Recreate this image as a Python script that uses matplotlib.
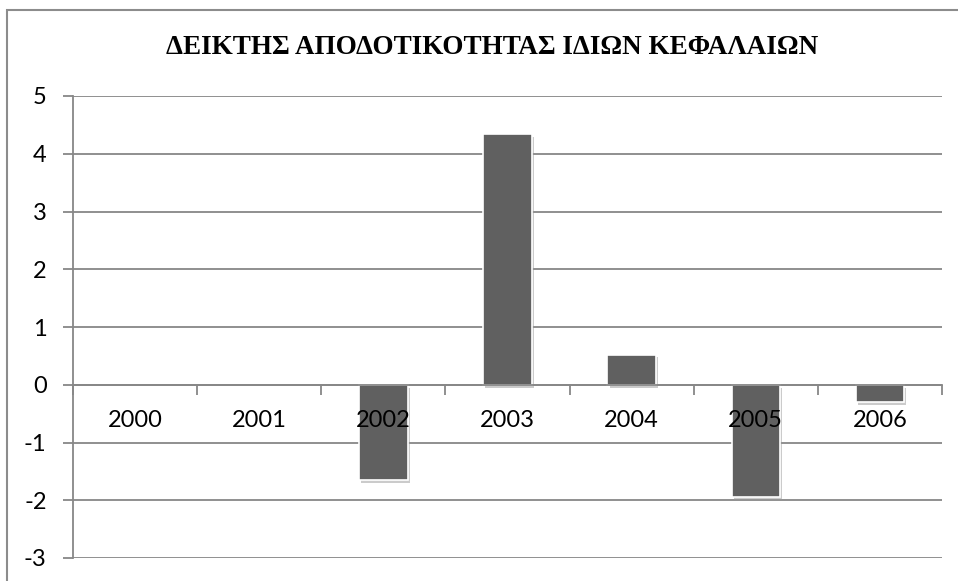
import matplotlib.pyplot as plt
import matplotlib.patheffects as pe
from matplotlib.patches import Rectangle
import numpy as np

years = ['2000', '2001', '2002', '2003', '2004', '2005', '2006']
values = [0.0, 0.0, -1.65, 4.34, 0.52, -1.94, -0.30]
title = 'ΔΕΙΚΤΗΣ ΑΠΟΔΟΤΙΚΟΤΗΤΑΣ ΙΔΙΩΝ ΚΕΦΑΛΑΙΩΝ'

plt.rcParams['axes.unicode_minus'] = False

W, H = 958, 581
fig = plt.figure(figsize=(W / 100, H / 100), dpi=100)
grid_c = '#878787'

# outer chart border (cut off at right and bottom in the original)
fig.patches.append(Rectangle((7 / W, -0.1), 1.2, 1 - 10 / H + 0.1, transform=fig.transFigure,
                             fill=False, edgecolor='#8c8c8c', linewidth=1.5))

ax = fig.add_axes([73 / W, 1 - 558 / H, (942 - 73) / W, (558 - 96) / H])
x = np.arange(len(years))
bars = ax.bar(x, values, width=0.39, color='#606060', edgecolor='white', linewidth=1.2, zorder=2)
for b, v in zip(bars, values):
    if v == 0:
        b.set_visible(False)
    b.set_path_effects([pe.SimplePatchShadow(offset=(1.5, -2), shadow_rgbFace='#999999', alpha=0.5),
                        pe.Normal()])

ax.set_xlim(-0.5, len(years) - 0.5)
ax.set_ylim(-3, 5)
ax.set_yticks(range(-3, 6))
# gridlines under the bars, axis (tick labels) above them
ax.hlines(range(-3, 6), -0.5, len(years) - 0.5, color=grid_c, linewidth=1.3, zorder=1)
ax.set_axisbelow(False)

for s in ['top', 'right']:
    ax.spines[s].set_visible(False)
ax.spines['left'].set_color(grid_c)
ax.spines['left'].set_linewidth(1.3)
ax.spines['bottom'].set_position(('data', 0))
ax.spines['bottom'].set_color(grid_c)
ax.spines['bottom'].set_linewidth(1.3)

ax.set_xticks(x)
ax.set_xticklabels(years, fontsize=17, family='Lato')
ax.set_xticks(np.arange(-0.5, len(years)), minor=True)
ax.tick_params(axis='x', which='major', length=0, pad=18)
ax.tick_params(axis='x', which='minor', length=7, width=1.3, color=grid_c, direction='out')
ax.tick_params(axis='y', length=7, width=1.3, color=grid_c, labelsize=17, pad=12)
for t in ax.get_yticklabels():
    t.set_family('Lato')

fig.text(492 / W, 1 - 48 / H, title, ha='center', va='center', fontsize=19.5,
         fontweight='bold', family='Liberation Serif')

fig.savefig('out.png', dpi=100)
